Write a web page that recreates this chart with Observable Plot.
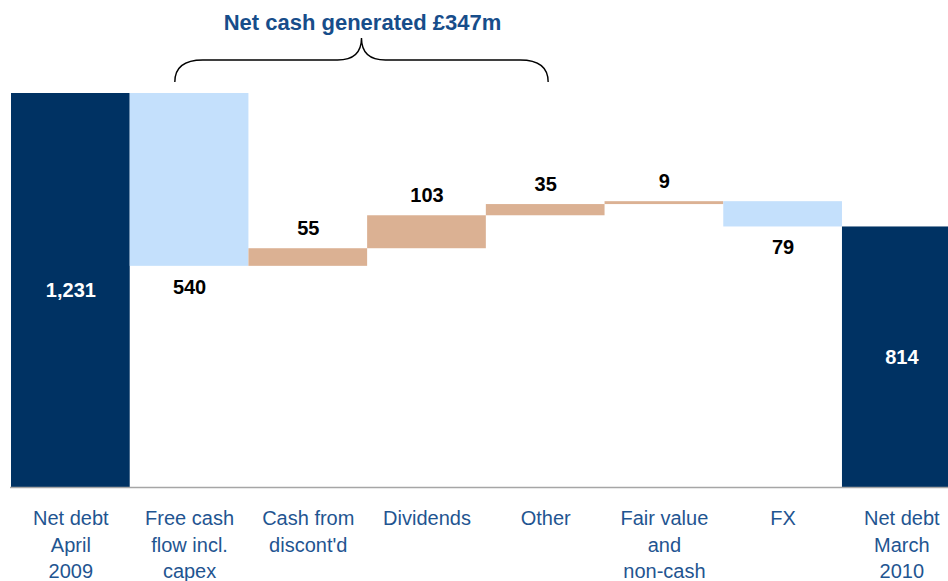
<!DOCTYPE html>
<html>
<head>
<meta charset="utf-8">
<script src="https://cdn.jsdelivr.net/npm/d3@7"></script>
<script src="https://cdn.jsdelivr.net/npm/@observablehq/plot@0.6"></script>
<style>
  html, body { margin: 0; padding: 0; background: #fff; overflow: hidden; }
  #chart { width: 948px; height: 581px; overflow: hidden; }
</style>
</head>
<body>
<div id="chart"></div>
<script>
const categories = ["Net debt\nApril\n2009", "Free cash\nflow incl.\ncapex", "Cash from\ndiscont'd", "Dividends", "Other", "Fair value\nand\nnon-cash", "FX", "Net debt\nMarch\n2010"];
const values = [1231, -540, 55, 103, 35, 9, -79, 814];
const kinds = ["total", "decrease", "increase", "increase", "increase", "increase", "decrease", "total"];
const valueLabels = ["1,231", "540", "55", "103", "35", "9", "79", "814"];
const annotationText = "Net cash generated £347m";

const colors = {total: "#003263", decrease: "#c4e0fc", increase: "#dbb193"};

// build waterfall rows
let running = 0;
const rows = categories.map((cat, i) => {
  let y1, y2;
  if (kinds[i] === "total") { y1 = 0; y2 = values[i]; running = values[i]; }
  else { y1 = running; y2 = running + values[i]; running = y2; }
  const lo = Math.min(y1, y2), hi = Math.max(y1, y2);
  return {cat, kind: kinds[i], label: valueLabels[i], y1: lo, y2: hi,
          ly: kinds[i] === "total" ? hi / 2 : kinds[i] === "increase" ? hi : lo};
});

const W = 948, H = 581;
const bandStart = 11, bandW = 118.71;

function brace(index, scales, values, dim) {
  const x = scales.x, bw = x.bandwidth();
  const xl = x(categories[1]) + 0.38 * bw;
  const xr = x(categories[4]) + 0.525 * bw;
  const xm = (xl + xr) / 2;
  const top = dim.marginTop; // top of bars frame
  const yEnd = top - 11, yArm = top - 33, yTip = top - 55;
  const g = d3.create("svg:g");
  const r = 28;
  const p = `M${xl},${yEnd} Q${xl},${yArm} ${xl + r},${yArm} L${xm - 24},${yArm} Q${xm},${yArm} ${xm},${yTip} ` +
            `Q${xm},${yArm} ${xm + 24},${yArm} L${xr - r},${yArm} Q${xr},${yArm} ${xr},${yEnd}`;
  g.append("path").attr("d", p).attr("fill", "none").attr("stroke", "#000").attr("stroke-width", 1.4);
  g.append("text").attr("x", xm + 1).attr("y", top - 63)
    .attr("text-anchor", "middle").attr("font-weight", "bold").attr("font-size", 22)
    .attr("fill", "#174d8a").text(annotationText);
  return g.node();
}

const chart = Plot.plot({
  width: W,
  height: H,
  marginTop: 93,
  marginBottom: H - 487,
  marginLeft: 10,
  marginRight: 0,
  style: {fontFamily: "'Liberation Sans', Arial, sans-serif", fontSize: "20px", background: "#fff"},
  x: {domain: categories, range: [bandStart, bandStart + bandW * categories.length], padding: 0, round: false},
  y: {domain: [0, 1231], axis: null},
  marks: [
    Plot.barY(rows, {x: "cat", y1: "y1", y2: "y2", fill: d => colors[d.kind], inset: 0}),
    Plot.ruleY([0], {stroke: "#a6a6a6", strokeWidth: 1.5}),
    Plot.text(rows, {x: "cat", y: "ly", text: "label", fontWeight: "bold", fontSize: 20,
      fill: "#fff", filter: d => d.kind === "total"}),
    Plot.text(rows, {x: "cat", y: "ly", text: "label", fontWeight: "bold", fontSize: 20, fill: "#000",
      dy: -20, filter: d => d.kind === "increase"}),
    Plot.text(rows, {x: "cat", y: "ly", text: "label", fontWeight: "bold", fontSize: 20, fill: "#000",
      dy: 21, filter: d => d.kind === "decrease"}),
    Plot.axisX({tickSize: 0, tickPadding: 19, fontSize: 20, lineHeight: 1.32, fill: "#1f5591", label: null}),
    brace
  ]
});
document.getElementById("chart").append(chart);
</script>
</body>
</html>
